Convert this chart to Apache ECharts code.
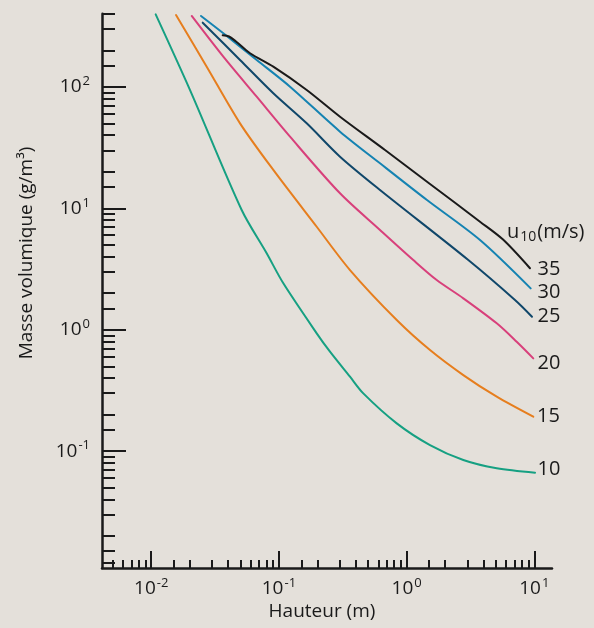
<!DOCTYPE html>
<html>
<head>
<meta charset="utf-8">
<script src="https://cdn.jsdelivr.net/npm/echarts@6/dist/echarts.min.js"></script>
<style>
html,body{margin:0;padding:0;background:#e4e0da;}
#c{width:594px;height:628px;}
</style>
</head>
<body>
<div id="c"></div>
<script>
// ---- data ----
const speeds = [10, 15, 20, 25, 30, 35];

const hauteur10 = [0.01084, 0.02014, 0.0511, 0.0802, 0.1083, 0.1977, 0.2512, 0.3603, 0.458, 0.837, 1.525, 2.78, 5.08, 10.13];
const masse10   = [396, 94.2, 9.68, 4.26, 2.41, 0.934, 0.659, 0.410, 0.299, 0.1694, 0.1122, 0.0845, 0.0722, 0.0664];

const hauteur15 = [0.01564, 0.0272, 0.0496, 0.0904, 0.1977, 0.3603, 0.837, 1.525, 2.78, 5.08, 9.82];
const masse15   = [391, 146.7, 50.1, 20.7, 7.05, 3.10, 1.202, 0.680, 0.423, 0.2806, 0.1920];

const hauteur20 = [0.02076, 0.0367, 0.0670, 0.1222, 0.301, 0.619, 1.128, 1.721, 2.78, 5.08, 7.28, 9.82];
const masse20   = [384, 177.4, 83.0, 38.9, 13.29, 6.63, 3.75, 2.567, 1.814, 1.129, 0.796, 0.581];

const hauteur25 = [0.02531, 0.0496, 0.0904, 0.1651, 0.301, 0.619, 3.042, 7.06, 9.59];
const masse25   = [338, 166.6, 88.6, 50.1, 26.6, 14.15, 3.75, 1.757, 1.280];

const hauteur30 = [0.02455, 0.0367, 0.0670, 0.1222, 0.301, 0.619, 1.444, 3.757, 9.37];
const masse30   = [384, 276.4, 166.6, 100.4, 42.8, 23.48, 11.7, 5.48, 2.19];

const hauteur35 = [0.0363, 0.0407, 0.0461, 0.0594, 0.0904, 0.1651, 0.301, 0.6775, 1.525, 3.757, 5.69, 9.25];
const masse35   = [266, 260, 236.6, 189.2, 146.7, 94.3, 56.8, 30.2, 15.86, 7.76, 5.53, 3.21];

// tick values and labels
const xMajorTicks = [0.01, 0.1, 1, 10];
const xMajorExp   = ['-2', '-1', '0', '1'];
const xMinorTicks = [0.005, 0.006, 0.007, 0.008, 0.009,
  0.015, 0.02, 0.03, 0.04, 0.05, 0.06, 0.07, 0.08, 0.09,
  0.15, 0.2, 0.3, 0.4, 0.5, 0.6, 0.7, 0.8, 0.9,
  1.5, 2, 3, 4, 5, 6, 7, 8, 9];
const yMajorTicks = [0.1, 1, 10, 100];
const yMajorExp   = ['-1', '0', '1', '2'];
const yMinorTicks = [0.012, 0.015, 0.02, 0.03, 0.04, 0.05, 0.06, 0.07, 0.08, 0.09,
  0.15, 0.2, 0.3, 0.4, 0.5, 0.6, 0.7, 0.8, 0.9,
  1.5, 2, 3, 4, 5, 6, 7, 8, 9,
  15, 20, 30, 40, 50, 60, 70, 80, 90,
  150, 200, 300, 400];

const xTitle = 'Hauteur (m)';
const yTitle = 'Masse volumique (g/m³)';
const legendTitle = ['u', '10', '(m/s)'];

// ---- styling ----
const INK = '#1a1a1a';
const FONT = '"Open Sans", "Noto Sans", sans-serif';
const colors = {10: '#16a082', 15: '#e67e1e', 20: '#d8407b', 25: '#10476a', 30: '#1583b2', 35: '#1a1a1a'};
const labelOffsets = {10: [-5.5, -3.7], 15: [-4.2, -0.7], 20: [-3.8, 4.7], 25: [-2.5, 0], 30: [-1.2, 4.4], 35: [-0.5, 0.7]};

const seriesData = {
  10: [hauteur10, masse10], 15: [hauteur15, masse15], 20: [hauteur20, masse20],
  25: [hauteur25, masse25], 30: [hauteur30, masse30], 35: [hauteur35, masse35]
};

const xMin = 0.004117, xMax = 13.76, yMin = 0.0109, yMax = 400;

const supRich = {
  b: {fontSize: 19, fontFamily: FONT, color: INK, lineHeight: 24},
  s: {fontSize: 13, fontFamily: FONT, color: INK, verticalAlign: 'top', lineHeight: 13, padding: [0, 0, 0, 1]}
};
function expFormatter(ticks, exps) {
  return function (v) {
    const e = Math.round(Math.log10(v));
    let idx = -1;
    for (let i = 0; i < ticks.length; i++) {
      if (Math.round(Math.log10(ticks[i])) === e) idx = i;
    }
    return '{b|10}{s|' + (idx >= 0 ? exps[idx] : e) + '}';
  };
}

const chart = echarts.init(document.getElementById('c'), null, {renderer: 'canvas'});

const option = {
  backgroundColor: '#e4e0da',
  animation: false,
  grid: {left: 102, right: 42, top: 13.8, bottom: 60, containLabel: false},
  xAxis: [
    {
      type: 'log', logBase: 10, min: xMin, max: xMax, position: 'bottom',
      axisLine: {show: true, onZero: false, lineStyle: {color: INK, width: 2.5}},
      axisTick: {show: true, inside: true, length: 17, lineStyle: {color: INK, width: 2}, customValues: xMajorTicks},
      axisLabel: {show: true, customValues: xMajorTicks, margin: 9, formatter: expFormatter(xMajorTicks, xMajorExp), rich: supRich},
      splitLine: {show: false}, minorTick: {show: false}, minorSplitLine: {show: false}
    },
    {
      type: 'log', logBase: 10, min: xMin, max: xMax, position: 'bottom',
      axisLine: {show: false},
      axisTick: {show: true, inside: true, length: 8, lineStyle: {color: INK, width: 2}, customValues: xMinorTicks},
      axisLabel: {show: false},
      splitLine: {show: false}
    }
  ],
  yAxis: [
    {
      type: 'log', logBase: 10, min: yMin, max: yMax, position: 'left',
      axisLine: {show: true, onZero: false, lineStyle: {color: INK, width: 2.5}},
      axisTick: {show: true, inside: true, length: 24, lineStyle: {color: INK, width: 2}, customValues: yMajorTicks},
      axisLabel: {show: true, customValues: yMajorTicks, margin: 12, formatter: expFormatter(yMajorTicks, yMajorExp), rich: supRich},
      splitLine: {show: false}, minorTick: {show: false}, minorSplitLine: {show: false}
    },
    {
      type: 'log', logBase: 10, min: yMin, max: yMax, position: 'left',
      axisLine: {show: false},
      axisTick: {show: true, inside: true, length: 13, lineStyle: {color: INK, width: 2}, customValues: yMinorTicks},
      axisLabel: {show: false},
      splitLine: {show: false}
    }
  ],
  graphic: [
    {
      type: 'text', x: 322, y: 612, silent: true,
      style: {text: xTitle, fontSize: 19, fontFamily: FONT, fill: INK, align: 'center', verticalAlign: 'middle', textAlign: 'center', textVerticalAlign: 'middle'}
    },
    {
      type: 'text', x: 27, y: 253, rotation: Math.PI / 2, silent: true,
      style: {text: yTitle, fontSize: 19, fontFamily: FONT, fill: INK, align: 'center', verticalAlign: 'middle', textAlign: 'center', textVerticalAlign: 'middle'}
    },
    {
      type: 'text', x: 507, y: 232, silent: true,
      style: {
        text: '{u|' + legendTitle[0] + '}{d|' + legendTitle[1] + '}{u|' + legendTitle[2] + '}',
        fontSize: 20, fontFamily: FONT, fill: INK,
        align: 'left', verticalAlign: 'middle', textAlign: 'left', textVerticalAlign: 'middle',
        rich: {
          u: {fontSize: 20, fontFamily: FONT, fill: INK, color: INK, lineHeight: 24},
          d: {fontSize: 14, fontFamily: FONT, fill: INK, color: INK, verticalAlign: 'bottom', lineHeight: 14, padding: [0, 1, 0, 1]}
        }
      }
    }
  ],
  series: speeds.map(function (s) {
    const xs = seriesData[s][0], ys = seriesData[s][1];
    return {
      type: 'line', name: String(s), xAxisIndex: 0, yAxisIndex: 0,
      data: xs.map(function (x, i) { return [x, ys[i]]; }),
      showSymbol: false, symbol: 'none', smooth: 0.3,
      lineStyle: {color: colors[s], width: 2, join: 'round', cap: 'round'},
      itemStyle: {color: colors[s]},
      endLabel: {show: true, formatter: String(s), offset: labelOffsets[s], fontSize: 20, fontFamily: FONT, color: INK},
      silent: true, z: 2
    };
  })
};
chart.setOption(option);
</script>
</body>
</html>
